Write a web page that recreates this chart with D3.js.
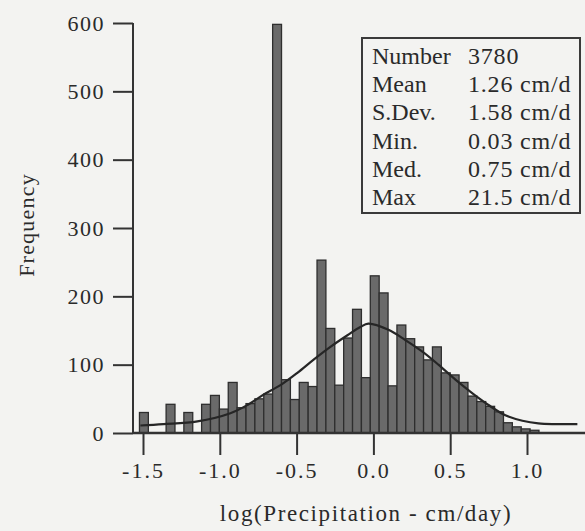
<!DOCTYPE html>
<html>
<head>
<meta charset="utf-8">
<script src="https://cdn.jsdelivr.net/npm/d3@7/dist/d3.min.js"></script>
<style>
  html, body { margin: 0; padding: 0; background: #f3f3f1; }
  svg { display: block; }
  text { font-family: "Liberation Serif", "Times New Roman", serif; fill: #2a2a2a; }
</style>
</head>
<body>
<svg id="chart" width="585" height="531"></svg>
<script>
// Histogram of log10 daily precipitation (cm/day), equal-width bins starting at log10(min)
const binStart = -1.523;
const binWidth = 0.0578;
const binCounts = [
  30, 0, 0, 42, 0, 30, 0, 42, 55, 35,
  74, 37, 43, 50, 57, 598, 78, 49, 74, 68,
  253, 153, 70, 139, 181, 81, 230, 205, 69, 158,
  138, 126, 107, 126, 88, 85, 74, 54, 46, 39,
  31, 15, 9, 6, 4
];

// Fitted frequency curve: [log10 precipitation, frequency]
const fitX = [-1.517, -1.367, -1.146, -0.931, -0.820, -0.716, -0.605, -0.495, -0.391, -0.280,
              -0.169, -0.085, -0.033, 0.098, 0.208, 0.319, 0.423, 0.534, 0.645, 0.749,
              0.859, 0.970, 1.074, 1.185, 1.328];
const fitY = [11, 13, 17, 29, 41, 56, 70, 88, 107, 126,
              143, 155, 160, 151, 136, 119, 100, 78, 58, 41,
              26, 18, 14, 13, 13];

const xTicks = [-1.5, -1.0, -0.5, 0.0, 0.5, 1.0];
const yTicks = [0, 100, 200, 300, 400, 500, 600];

// Summary statistics box
const statLabels = ["Number", "Mean", "S.Dev.", "Min.", "Med.", "Max"];
const statValues = ["3780", "1.26 cm/d", "1.58 cm/d", "0.03 cm/d", "0.75 cm/d", "21.5 cm/d"];

const svg = d3.select("#chart");
const axisX0 = 133, axisY0 = 433;

const x = d3.scaleLinear().domain([-1.5, 1.0]).range([143, 527]);
const y = d3.scaleLinear().domain([0, 600]).range([433, 23]);

// Bars
const bins = binCounts.map((c, i) => ({ x0: binStart + i * binWidth, x1: binStart + (i + 1) * binWidth, c }));
svg.append("g")
  .selectAll("rect")
  .data(bins.filter(b => b.c > 0))
  .join("rect")
  .attr("x", d => x(d.x0))
  .attr("width", d => x(d.x1) - x(d.x0))
  .attr("y", d => y(d.c))
  .attr("height", d => y(0) - y(d.c))
  .attr("fill", "#6a6a6a")
  .attr("stroke", "#2e2e2e")
  .attr("stroke-width", 1.3);

// Fitted curve
const line = d3.line()
  .x(d => x(d[0]))
  .y(d => y(d[1]))
  .curve(d3.curveCatmullRom.alpha(0.5));
svg.append("path")
  .datum(fitX.map((v, i) => [v, fitY[i]]))
  .attr("d", line)
  .attr("fill", "none")
  .attr("stroke", "#262626")
  .attr("stroke-width", 2.2);

const fmt = d => d3.format(".1f")(d).replace("\u2212", "-");

// Y axis
const yAxis = svg.append("g")
  .attr("transform", `translate(${axisX0},0)`)
  .call(d3.axisLeft(y).tickValues(yTicks).tickSize(20).tickSizeOuter(0).tickPadding(8));
yAxis.select(".domain").remove();
yAxis.selectAll(".tick line").attr("stroke", "#333").attr("stroke-width", 2);
yAxis.selectAll(".tick text")
  .attr("font-size", 22).attr("letter-spacing", 1.5)
  .attr("font-family", "Liberation Serif").attr("fill", "#2a2a2a");

// X axis
const xAxis = svg.append("g")
  .attr("transform", `translate(0,${axisY0})`)
  .call(d3.axisBottom(x).tickValues(xTicks).tickSize(22).tickSizeOuter(0).tickPadding(7).tickFormat(fmt));
xAxis.select(".domain").remove();
xAxis.selectAll(".tick line").attr("stroke", "#333").attr("stroke-width", 2);
xAxis.selectAll(".tick text")
  .attr("font-size", 22).attr("letter-spacing", 2)
  .attr("font-family", "Liberation Serif").attr("fill", "#2a2a2a");

// Axis lines
svg.append("line").attr("x1", axisX0).attr("x2", axisX0).attr("y1", y(600)).attr("y2", axisY0 + 1)
  .attr("stroke", "#333").attr("stroke-width", 2);
svg.append("line").attr("x1", axisX0).attr("x2", 585).attr("y1", axisY0).attr("y2", axisY0)
  .attr("stroke", "#333").attr("stroke-width", 2.4);

// Axis titles
svg.append("text")
  .attr("x", 366).attr("y", 521)
  .attr("text-anchor", "middle")
  .attr("font-size", 23).attr("letter-spacing", 1.6)
  .text("log(Precipitation - cm/day)");
svg.append("text")
  .attr("transform", "translate(34,225) rotate(-90)")
  .attr("text-anchor", "middle")
  .attr("font-size", 22).attr("letter-spacing", 1.2)
  .text("Frequency");

// Statistics box
const box = svg.append("g");
box.append("rect")
  .attr("x", 362).attr("y", 38).attr("width", 218).attr("height", 175)
  .attr("fill", "none").attr("stroke", "#3a3a3a").attr("stroke-width", 2);
statLabels.forEach((s, i) => {
  box.append("text").attr("x", 372).attr("y", 64 + i * 28.2)
    .attr("font-size", 24).text(s);
  box.append("text").attr("x", 468).attr("y", 64 + i * 28.2)
    .attr("font-size", 24).attr("letter-spacing", 0.8).text(statValues[i]);
});
</script>
</body>
</html>
